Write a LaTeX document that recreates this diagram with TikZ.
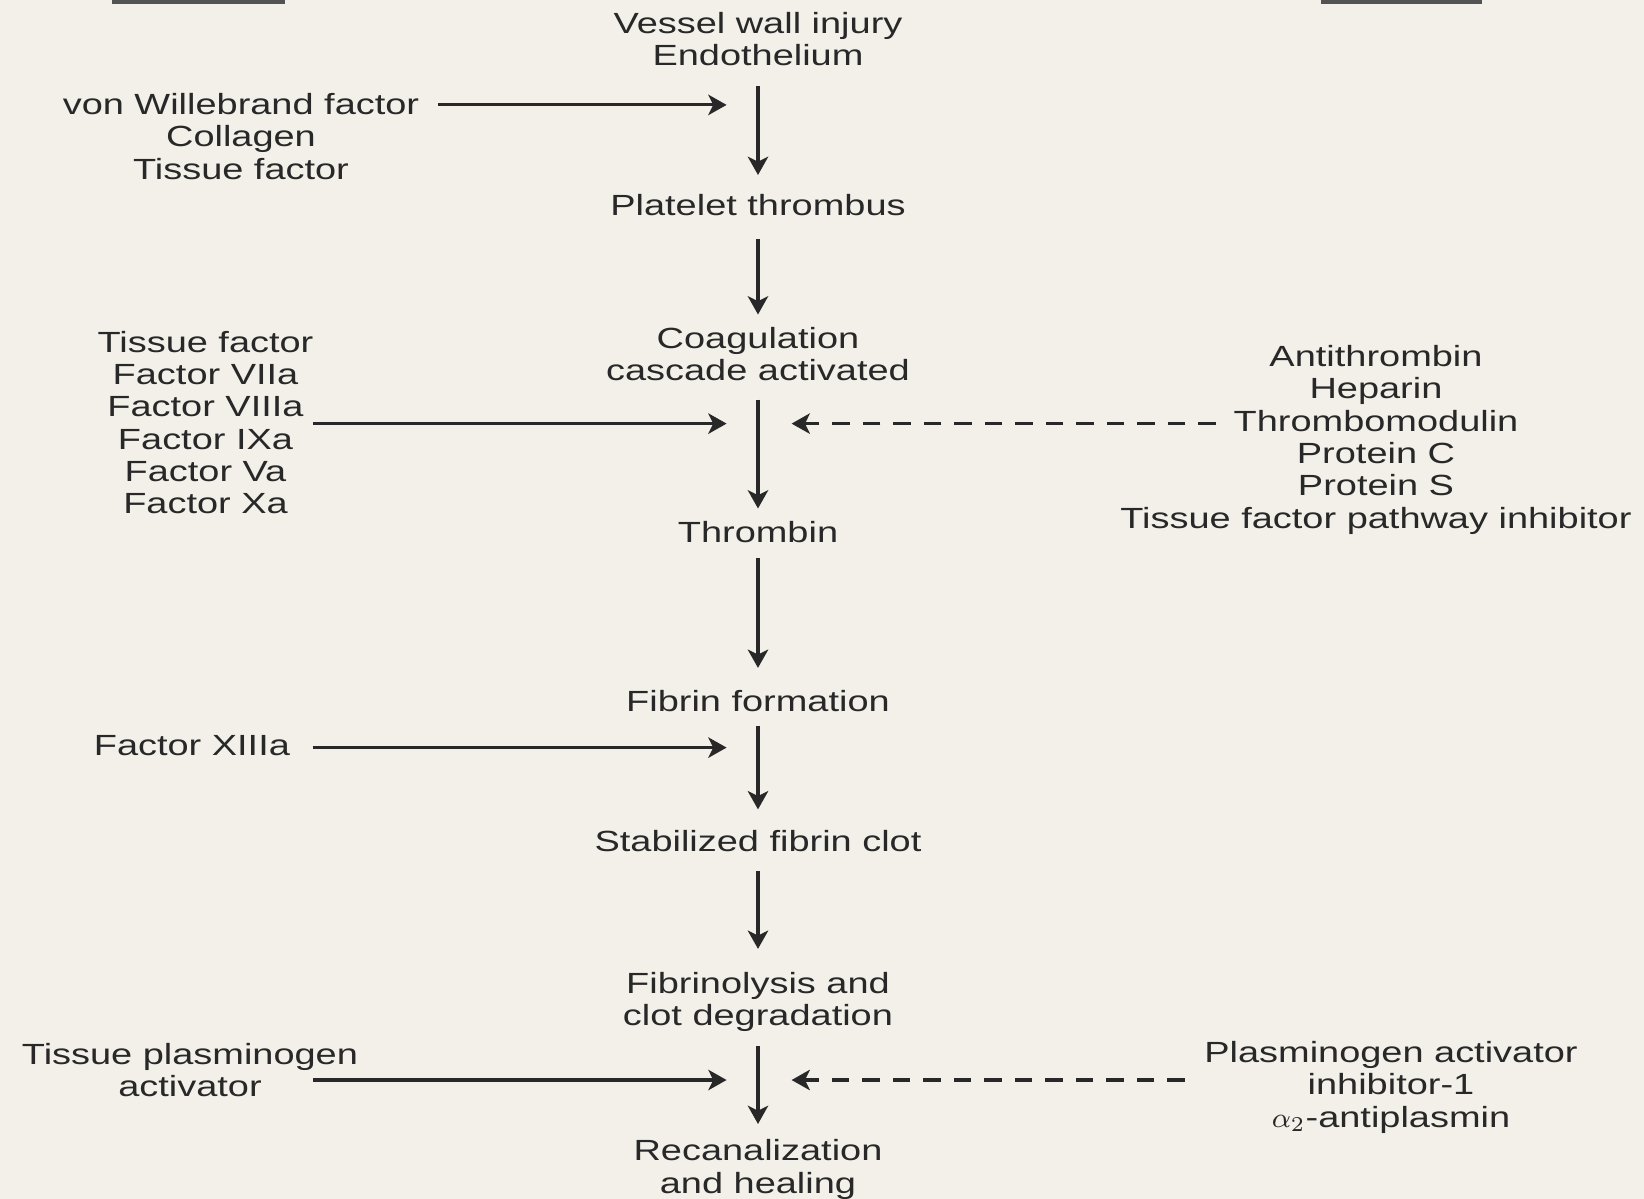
\documentclass[tikz,border=0pt]{standalone}
\usepackage{fontspec}
\setmainfont{Liberation Sans}[FakeStretch=1.3]
\usetikzlibrary{arrows.meta}
\definecolor{bgc}{RGB}{242,240,233}
\definecolor{ink}{RGB}{40,40,40}
\begin{document}
\begin{tikzpicture}[x=0.01cm,y=-0.01cm,
  lbl/.style={inner sep=0pt,align=center,text=ink,font=\fontsize{8.3}{9.2}\selectfont},
  arr/.style={draw=ink,line width=0.9pt,-{Stealth[length=5.2pt,width=5.8pt,inset=1.4pt]}},
  darr/.style={arr,dash pattern=on 0.175cm off 0.13cm},
  rule/.style={draw=ink!80,line width=1.6pt}]
\fill[bgc] (0,0) rectangle (1644,1199);
\useasboundingbox (0,0) rectangle (1644,1199);
% top cut-off rules
\draw[rule] (112,1.5) -- (285,1.5);
\draw[rule] (1321,1.5) -- (1482,1.5);
% centre column
\node[lbl] (vessel) at (758,39.3) {Vessel wall injury\\Endothelium};
\node[lbl] (platelet) at (758,205.5) {Platelet thrombus};
\node[lbl] (coag) at (758,353.9) {Coagulation\\cascade activated};
\node[lbl] (thrombin) at (758,531.6) {Thrombin};
\node[lbl] (fibrin) at (758,701.4) {Fibrin formation};
\node[lbl] (stab) at (758,840.9) {Stabilized fibrin clot};
\node[lbl] (lysis) at (758,1001.8) {Fibrinolysis and\\clot degradation};
\node[lbl] (recan) at (758,1169.6) {Recanalization\\and healing};
% side lists
\node[lbl] (l1) at (241,136.3) {von Willebrand factor\\Collagen\\Tissue factor};
\node[lbl] (l2) at (205.5,422.5) {Tissue factor\\Factor VIIa\\Factor VIIIa\\Factor IXa\\Factor Va\\Factor Xa};
\node[lbl] (r2) at (1376,439.9) {Antithrombin\\Heparin\\Thrombomodulin\\Protein C\\Protein S\\Tissue factor pathway inhibitor};
\node[lbl] (l3) at (191.9,745.5) {Factor XIIIa};
\node[lbl] (l4) at (190,1070) {Tissue plasminogen\\activator};
\node[lbl] (r4) at (1391,1087.3) {Plasminogen activator\\inhibitor-1\\$\alpha_{2}$-antiplasmin};
% vertical arrows
\draw[arr,shorten <=0.467cm,shorten >=0.305cm] (vessel.center) -- (platelet.center);
\draw[arr,shorten <=0.335cm,shorten >=0.394cm] (platelet.center) -- (coag.center);
\draw[arr,shorten <=0.456cm,shorten >=0.231cm] (coag.center) -- (thrombin.center);
\draw[arr,shorten <=0.262cm,shorten >=0.335cm] (thrombin.center) -- (fibrin.center);
\draw[arr,shorten <=0.242cm,shorten >=0.315cm] (fibrin.center) -- (stab.center);
\draw[arr,shorten <=0.304cm,shorten >=0.529cm] (stab.center) -- (lysis.center);
\draw[arr,shorten <=0.446cm,shorten >=0.456cm] (lysis.center) -- (recan.center);
% junction points on the main column
\coordinate (j1) at (726.6,104.9);
\coordinate (j2) at (726.6,423.6);
\coordinate (k2) at (791.6,423.6);
\coordinate (j3) at (726.6,747.6);
\coordinate (j4) at (726.6,1080);
\coordinate (k4) at (791.6,1080);
% start points of side arrows
\coordinate (s1) at (438,104.9);
\coordinate (s2) at (312.5,423.6);
\coordinate (d2) at (1216,423.6);
\coordinate (s3) at (312.5,747.6);
\coordinate (s4) at (312.5,1080);
\coordinate (d4) at (1184.8,1080);
% side arrows
\draw[arr] (s1) -- (j1);
\draw[arr] (s2) -- (j2);
\draw[darr] (d2) -- (k2);
\draw[arr] (s3) -- (j3);
\draw[arr] (s4) -- (j4);
\draw[darr] (d4) -- (k4);
\end{tikzpicture}
\end{document}
